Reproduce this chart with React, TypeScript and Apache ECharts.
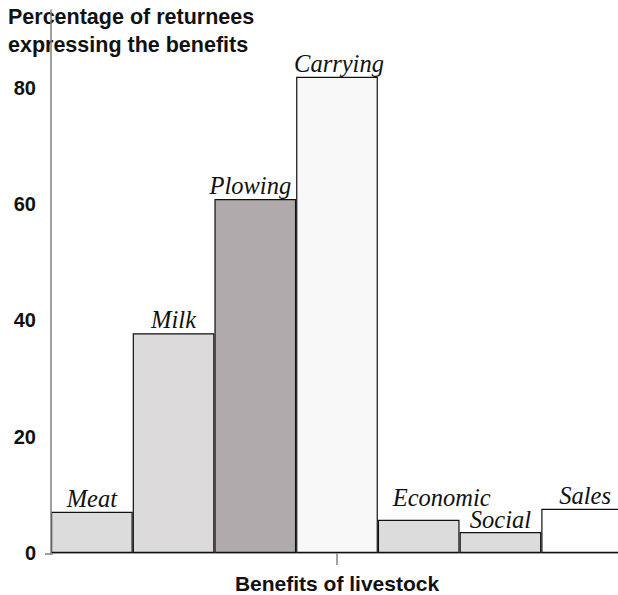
import React, { useEffect, useRef } from "react";
import * as echarts from "echarts";

const categories = ["Meat", "Milk", "Plowing", "Carrying", "Economic", "Social", "Sales"];
const values = [7.1, 37.8, 60.9, 81.9, 5.7, 3.6, 7.6];
const barColors = ["#dcdcdc", "#dcdadb", "#b0aaad", "#f8f8f8", "#dcdcdc", "#dcdcdc", "#ffffff"];
const labelOffsets: [number, number][] = [[0, 0], [0, 0], [-5, 0], [2, 0], [23, -9], [0, 1], [3, 0]];
const yTicks = { min: 0, max: 93.4, interval: 20 };

export default function App() {
  const ref = useRef<HTMLDivElement>(null);
  useEffect(() => {
    if (!ref.current) return;
    document.body.style.margin = "0";
    const chart = echarts.init(ref.current, undefined, { renderer: "svg" });
    const boldFont = { fontFamily: "Liberation Sans", fontWeight: "bold" as const, color: "#111" };
    chart.setOption({
      animation: false,
      title: {
        text: "Percentage of returnees\nexpressing the benefits",
        left: 3,
        top: -2,
        z: 0,
        textStyle: { ...boldFont, fontSize: 21.5, lineHeight: 28 },
      },
      grid: { left: 51, right: -5, top: 10, bottom: 42, outerBoundsMode: "none", containLabel: false },
      xAxis: [
        {
          type: "category",
          data: categories,
          axisLine: { show: true, lineStyle: { color: "#808080", width: 1.5 } },
          axisTick: { show: false },
          axisLabel: { show: false },
          name: "Benefits of livestock",
          nameLocation: "middle",
          nameGap: 20,
          nameTextStyle: { ...boldFont, fontSize: 21 },
        },
        {
          type: "value",
          min: 0,
          max: 7,
          position: "bottom",
          axisLine: { show: false },
          axisTick: { show: true, customValues: [3.5], length: 12, lineStyle: { color: "#808080", width: 1.5 } },
          axisLabel: { show: false },
          splitLine: { show: false },
        },
      ],
      yAxis: {
        type: "value",
        min: yTicks.min,
        max: yTicks.max,
        interval: yTicks.interval,
        offset: 6,
        z: 5,
        axisLine: { show: true, lineStyle: { color: "#808080", width: 1.5 } },
        axisTick: { show: false },
        splitLine: { show: false },
        axisLabel: { ...boldFont, fontSize: 20, margin: 9, showMaxLabel: false },
      },
      series: [
        {
          type: "bar",
          xAxisIndex: 0,
          barCategoryGap: "0%",
          data: values.map((v, i) => ({
            value: v,
            itemStyle: { color: barColors[i] },
            label: { offset: labelOffsets[i] },
          })),
          itemStyle: { borderColor: "#111", borderWidth: 1.2 },
          label: {
            show: true,
            position: "top",
            distance: 1,
            formatter: (p: any) => categories[p.dataIndex],
            fontFamily: "Liberation Serif",
            fontStyle: "italic",
            fontSize: 24.5,
            color: "#111",
          },
        },
      ],
    });
    const origin = chart.convertToPixel({ xAxisIndex: 1, yAxisIndex: 0 }, [0, 0]) as number[];
    if (origin) {
      chart.setOption({
        graphic: [
          {
            type: "line",
            shape: { x1: origin[0] - 6, y1: origin[1] + 1, x2: origin[0] + 2, y2: origin[1] + 1 },
            style: { stroke: "#808080", lineWidth: 1.5 },
          },
        ],
      });
    }
    return () => chart.dispose();
  }, []);
  return <div ref={ref} style={{ width: 618, height: 595 }} />;
}
